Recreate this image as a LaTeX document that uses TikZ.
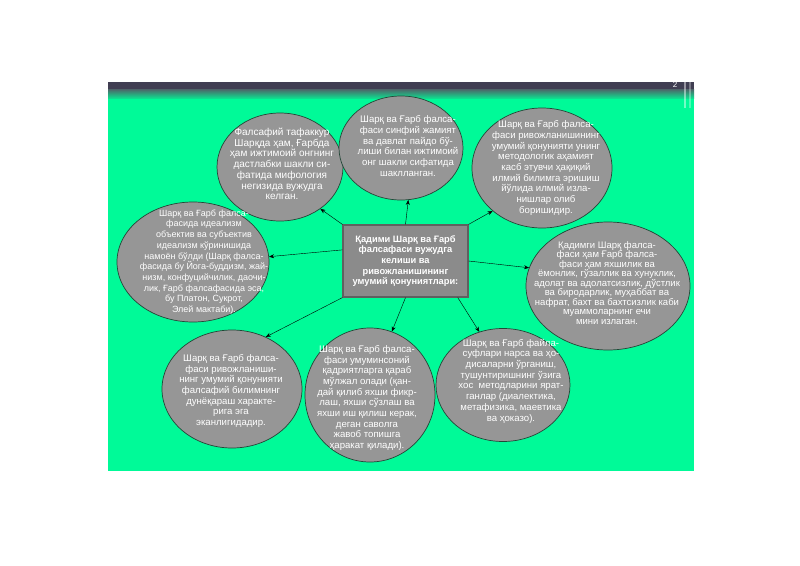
\documentclass[tikz,border=0pt]{standalone}
\usepackage{fontspec}
\setmainfont{Liberation Sans}
\usetikzlibrary{arrows.meta,shapes.geometric}
\definecolor{slidegreen}{RGB}{0,250,152}
\definecolor{bubblegray}{RGB}{150,150,150}
\definecolor{bubbleline}{RGB}{35,70,55}
\definecolor{barblue}{RGB}{64,62,82}
\definecolor{bandteal}{RGB}{78,100,104}

\begin{document}
\begin{tikzpicture}[x=1pt,y=-1pt,
  bubble/.style={ellipse, draw=bubbleline, line width=.7pt, fill=bubblegray, inner sep=0pt},
  btext/.style={text=white, align=center, inner sep=0pt, font=\fontsize{9.6}{10.7}\selectfont},
  hub/.style={rectangle, draw=gray!75!black, line width=1.2pt, fill=bubblegray!93!black,
    text=white, align=center, inner sep=0pt, minimum width=125pt, minimum height=72pt,
    font=\bfseries\fontsize{9.3}{10.7}\selectfont},
  >={Stealth[length=5pt,width=4pt]}]
\useasboundingbox (0,0) rectangle (800,565);
\fill[white] (0,0) rectangle (800,565);
%slide background
\fill[slidegreen] (108,98) rectangle (694,471);
\fill[barblue] (108,82) rectangle (694,89);
\shade[top color=bandteal, bottom color=slidegreen!80!bandteal] (108,89) rectangle (694,98);
\fill[white, opacity=.45] (684,82) rectangle (686,108);
\fill[white, opacity=.3] (689,82) rectangle (691,108);
\node[text=white, font=\fontsize{8}{9}\selectfont, inner sep=0pt] (pnum) at (675,85) {2};

%bubbles
\node[bubble, minimum width=126pt, minimum height=108pt] (e1) at (280,167) {};
\node[bubble, minimum width=124pt, minimum height=104pt] (e2) at (401,148) {};
\node[bubble, minimum width=140pt, minimum height=120pt] (e3) at (542,168) {};
\node[bubble, minimum width=152pt, minimum height=120pt] (e4) at (193,262) {};
\node[bubble, minimum width=164pt, minimum height=128pt] (e6) at (608,286) {};
\node[bubble, minimum width=140pt, minimum height=118pt] (e7) at (232,389) {};
\node[bubble, minimum width=130pt, minimum height=134pt] (e8) at (370,395) {};
\node[bubble, minimum width=134pt, minimum height=113pt] (e9) at (503,385) {};

\node[hub] (hub) at (405.5,261) {Қадими Шарқ ва Ғарб\\фалсафаси вужудга\\келиши ва\\ривожланишининг\\умумий қонуниятлари:};

\draw[->] (hub.north west) -- (e1.-46);
\draw[->] (hub.north) -- (e2.-82);
\draw[->] (hub.north east) -- (e3.-139);
\draw[->] (hub.170) -- (e4.4);
\draw[->] (hub.east) -- (e6.167);
\draw[->] (hub.south west) -- (e7.57);
\draw[->] (hub.south) -- (e8.71);
\draw[->] (hub.-35) -- (e9.114);

%texts
\node[btext, font=\fontsize{10}{10.7}\selectfont] (t1) at (282,164) {Фалсафий тафаккур\\Шарқда ҳам, Ғарбда\\ҳам ижтимоий онгнинг\\дастлабки шакли си-\\фатида мифология\\негизида вужудга\\келган.};
\node[btext] (t2) at (408,146) {Шарқ ва Ғарб фалса-\\фаси синфий жамият\\ва давлат пайдо бў-\\лиши билан ижтимоий\\онг шакли сифатида\\шаклланган.};
\node[btext] (t3) at (546,168) {Шарқ ва Ғарб фалса-\\фаси ривожланишининг\\умумий қонунияти унинг\\методологик аҳамият\\касб этувчи ҳақиқий\\илмий билимга эришиш\\йўлида илмий изла-\\нишлар олиб\\боришидир.};
\node[btext, font=\fontsize{9}{10.7}\selectfont] (t4) at (204,262) {Шарқ ва Ғарб фалса-\\фасида идеализм\\объектив ва субъектив\\идеализм кўринишида\\намоён бўлди (Шарқ фалса-\\фасида бу Йога-буддизм, жай-\\низм, конфуцийчилик, даочи-\\лик, Ғарб фалсафасида эса,\\бу Платон, Сукрот,\\Элей мактаби).};
\node[btext, font=\fontsize{9.5}{9.5}\selectfont] (t6) at (607,283) {Қадимги Шарқ фалса-\\фаси ҳам Ғарб фалса-\\фаси ҳам яхшилик ва\\ёмонлик, гўзаллик ва хунуклик,\\адолат ва адолатсизлик, дўстлик\\ва биродарлик, муҳаббат ва\\нафрат, бахт ва бахтсизлик каби\\муаммоларнинг ечи\\мини излаган.};
\node[btext] (t7) at (231,391) {Шарқ ва Ғарб фалса-\\фаси ривожланиши-\\нинг умумий қонунияти\\фалсафий билимнинг\\дунёқараш характе-\\рига эга\\эканлигидадир.};
\node[btext] (t8) at (367,398) {Шарқ ва Ғарб фалса-\\фаси умуминсоний\\қадриятларга қараб\\мўлжал олади (қан-\\дай қилиб яхши фикр-\\лаш, яхши сўзлаш ва\\яхши иш қилиш керак,\\деган саволга\\жавоб топишга\\ҳаракат қилади).};
\node[btext] (t9) at (511,381) {Шарқ ва Ғарб файла-\\суфлари нарса ва ҳо-\\дисаларни ўрганиш,\\тушунтиришнинг ўзига\\хос\ \ методларини ярат-\\ганлар (диалектика,\\метафизика, маевтика\\ва ҳоказо).};
\end{tikzpicture}
\end{document}
